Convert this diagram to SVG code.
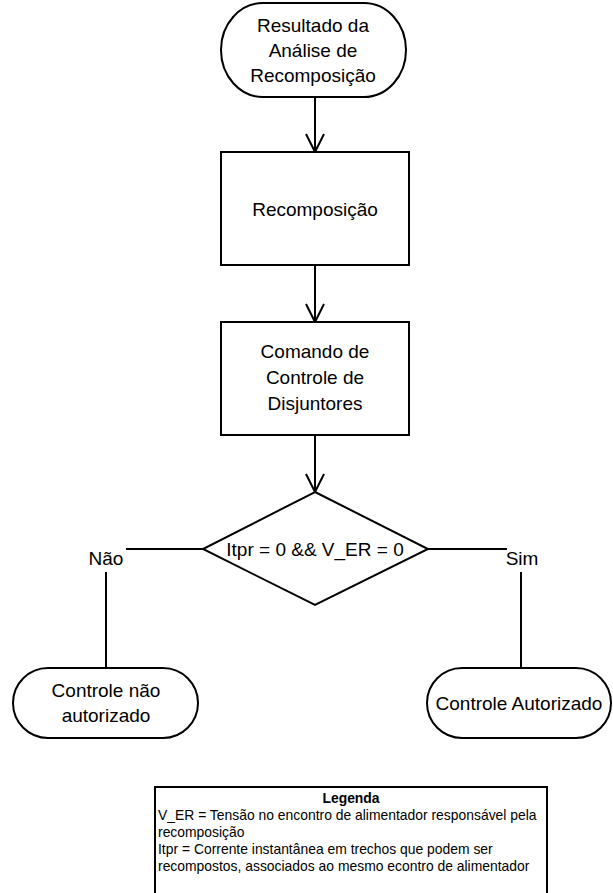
<svg xmlns="http://www.w3.org/2000/svg" width="613" height="893" viewBox="0 0 613 893">
  <defs>
    <marker id="open-arrow" markerUnits="userSpaceOnUse" markerWidth="24" markerHeight="24" refX="20" refY="10" orient="auto">
      <path d="M2,1 L20,10 L2,19" fill="none" stroke="#000" stroke-width="2"/>
    </marker>
  </defs>
  <style>
    .shape { fill: #fff; stroke: #000; stroke-width: 2; }
    .wire { fill: none; stroke: #000; stroke-width: 2; }
    .lbl { font-family: "Liberation Sans", Arial, sans-serif; font-size: 19px; fill: #000; text-anchor: middle; }
    .leg { font-family: "Liberation Sans", Arial, sans-serif; font-size: 13.9px; fill: #000; }
  </style>
  <rect width="613" height="893" fill="#fff"/>

  <g id="connectors">
    <line class="wire" x1="315" y1="97" x2="315" y2="152" marker-end="url(#open-arrow)"/>
    <line class="wire" x1="315" y1="265" x2="315" y2="322" marker-end="url(#open-arrow)"/>
    <line class="wire" x1="315" y1="435" x2="315" y2="492" marker-end="url(#open-arrow)"/>
    <line class="wire" x1="203" y1="549" x2="126" y2="549"/>
    <line class="wire" x1="106" y1="572" x2="106" y2="668"/>
    <line class="wire" x1="428" y1="549" x2="507" y2="549"/>
    <line class="wire" x1="521" y1="572" x2="521" y2="668"/>
    <text class="lbl" x="106" y="565">Não</text>
    <text class="lbl" x="522" y="565">Sim</text>
  </g>

  <g id="start">
    <rect class="shape" x="221" y="3" width="185" height="94" rx="42" ry="47"/>
    <text class="lbl" x="313" y="32">Resultado da</text>
    <text class="lbl" x="313" y="57">Análise de</text>
    <text class="lbl" x="313" y="82">Recomposição</text>
  </g>

  <g id="recomposicao">
    <rect class="shape" x="221" y="152" width="188" height="113"/>
    <text class="lbl" x="315" y="216">Recomposição</text>
  </g>

  <g id="comando">
    <rect class="shape" x="221" y="322" width="188" height="113"/>
    <text class="lbl" x="315" y="358">Comando de</text>
    <text class="lbl" x="315" y="384">Controle de</text>
    <text class="lbl" x="315" y="410">Disjuntores</text>
  </g>

  <g id="decisao">
    <polygon class="shape" points="315,492 428,549 315,605 203,549"/>
    <text class="lbl" x="315" y="556">Itpr = 0 &amp;&amp; V_ER = 0</text>
  </g>

  <g id="nao-autorizado">
    <rect class="shape" x="13" y="668" width="185" height="70" rx="35" ry="35"/>
    <text class="lbl" x="106" y="697">Controle não</text>
    <text class="lbl" x="106" y="722">autorizado</text>
  </g>

  <g id="autorizado">
    <rect class="shape" x="427" y="668" width="184" height="70" rx="35" ry="35"/>
    <text class="lbl" x="519" y="710">Controle Autorizado</text>
  </g>

  <g id="legenda">
    <rect class="shape" x="155" y="787" width="392" height="120"/>
    <text class="leg" x="351" y="803" text-anchor="middle" font-weight="bold">Legenda</text>
    <text class="leg" x="158" y="820">V_ER = Tensão no encontro de alimentador responsável pela</text>
    <text class="leg" x="158" y="837">recomposição</text>
    <text class="leg" x="158" y="854">Itpr = Corrente instantânea em trechos que podem ser</text>
    <text class="leg" x="158" y="871">recompostos, associados ao mesmo econtro de alimentador</text>
  </g>
</svg>
